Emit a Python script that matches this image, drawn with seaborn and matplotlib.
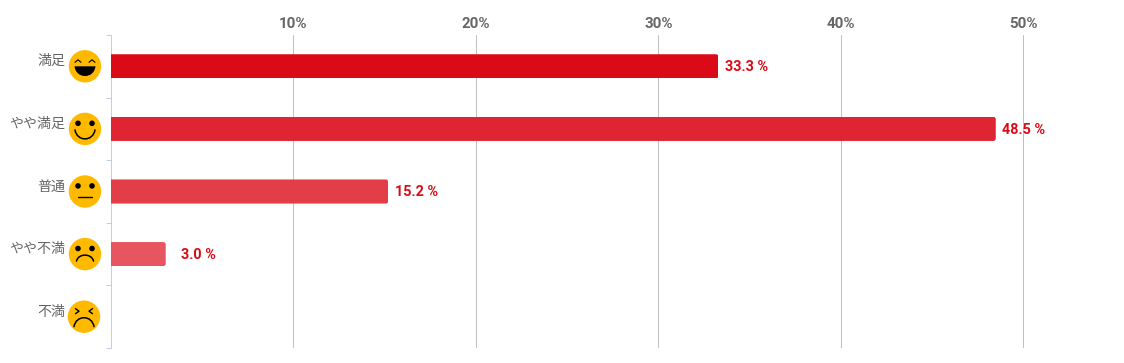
import matplotlib
matplotlib.use('Agg')
import matplotlib.pyplot as plt
import pandas as pd
import seaborn as sns
from matplotlib.patches import Circle, FancyBboxPatch, PathPatch
from matplotlib.path import Path
from matplotlib.transforms import IdentityTransform

categories = ['満足', 'やや満足', '普通', 'やや不満', '不満']
values = [33.3, 48.5, 15.2, 3.0, 0.0]
bar_colors = ['#DA0B17', '#DF2531', '#E33D48', '#E75660', '#EB6E76']
x_ticks = [10, 20, 30, 40, 50]
faces = ['grin', 'smile', 'flat', 'sad', 'angry']

sns.set_theme(style='white')
plt.rcParams['font.family'] = ['Roboto', 'DejaVu Sans']

W, H = 1124, 363
fig = plt.figure(figsize=(W / 100, H / 100), dpi=100)
ax = fig.add_axes([111 / W, 1 - 348 / H, (W - 111) / W, 313 / H])

df = pd.DataFrame({'category': categories, 'value': values})
sns.barplot(data=df, y='category', x='value', hue='category', palette=bar_colors,
            order=categories, hue_order=categories, width=0.385, legend=False,
            saturation=1, linewidth=0, ax=ax, zorder=3)
ax.set_xlim(0, 55.53)
ax.set_ylim(4.5, -0.5)
ax.set_xlabel('')
ax.set_ylabel('')

# axis at the top, grid only on the value ticks
ax.xaxis.tick_top()
ax.set_xticks(x_ticks)
ax.set_xticklabels([f'{t}%' for t in x_ticks], fontsize=10.8, fontweight='bold', color='#666666')
ax.tick_params(axis='x', length=0, pad=2.8)
ax.grid(axis='x', color='#C0C0C0', linewidth=0.72, zorder=0)
ax.set_axisbelow(True)

# category ticks sit between the bars
ax.set_yticks([i + 0.5 for i in range(-1, len(categories))])
ax.set_yticklabels([])
ax.tick_params(axis='y', length=3.6, width=0.72, color='#C0D0E0', left=True)
sns.despine(ax=ax, top=True, right=True, bottom=True)
ax.spines['left'].set_color('#C0D0E0')
ax.spines['left'].set_linewidth(0.72)

fig.canvas.draw()

# rounded right end on each bar
for bar in ax.patches:
    if bar.get_width() <= 0:
        continue
    bb = bar.get_window_extent()
    clip = FancyBboxPatch((bb.x0 - 10, bb.y0), bb.width + 10, bb.height,
                          boxstyle='round,pad=0,rounding_size=2.5', transform=IdentityTransform())
    bar.set_clip_path(clip.get_path().transformed(clip.get_patch_transform()), IdentityTransform())

# value labels
for i, v in enumerate(values):
    if v <= 0:
        continue
    extra = 15 if v < 5 else 6.5
    ax.annotate(f'{v:.1f} %', xy=(v, i), xytext=(extra, -1), textcoords='offset pixels',
                ha='left', va='center', fontsize=10.4, fontweight='bold', color='#DA0B17',
                annotation_clip=False)

# category labels
for i, c in enumerate(categories):
    ax.annotate(c, xy=(0, i), xytext=(-45.5, 5), textcoords='offset pixels', ha='right', va='center',
                fontsize=10.1, color='#666666', annotation_clip=False,
                family=['Noto Sans CJK JP', 'DejaVu Sans'])

# emoji overlay in pixel coordinates
ov = fig.add_axes([0, 0, 1, 1], zorder=5)
ov.set_xlim(0, W)
ov.set_ylim(H, 0)
ov.axis('off')


def curve(cx, cy, x0, x1, y0, y1, lw=1.1):
    # rounded arc from (x0, y0) to (x1, y0) reaching y1 in the middle
    ctrl = y0 + (y1 - y0) * 4 / 3
    dx = (x1 - x0) * 0.1
    verts = [(cx + x0, cy + y0), (cx + x0 + dx, cy + ctrl), (cx + x1 - dx, cy + ctrl), (cx + x1, cy + y0)]
    ov.add_patch(PathPatch(Path(verts, [Path.MOVETO, Path.CURVE4, Path.CURVE4, Path.CURVE4]),
                           fill=False, edgecolor='black', linewidth=lw, capstyle='round'))


def draw_face(cx, cy, kind):
    ov.add_patch(Circle((cx, cy), 16.2, facecolor='#FFBA00', edgecolor='none'))
    if kind in ('smile', 'flat', 'sad'):
        for dx in (-7, 7):
            ov.add_patch(Circle((cx + dx, cy - 5.6), 2.8, facecolor='black', edgecolor='none'))
    if kind == 'grin':
        for dx in (-7, 7):
            ov.plot([cx + dx - 3, cx + dx, cx + dx + 3], [cy - 4, cy - 6.5, cy - 4], color='black', lw=0.8)
        verts = [(cx - 10.5, cy), (cx - 9, cy + 13), (cx + 9, cy + 13), (cx + 10.5, cy), (cx - 10.5, cy)]
        ov.add_patch(PathPatch(Path(verts, [Path.MOVETO, Path.CURVE4, Path.CURVE4, Path.CURVE4, Path.CLOSEPOLY]),
                               facecolor='black', edgecolor='none'))
    elif kind == 'smile':
        curve(cx, cy, -10, 10, 1, 10)
    elif kind == 'flat':
        ov.plot([cx - 7, cx + 7], [cy + 5.5, cy + 5.5], color='black', lw=1)
    elif kind == 'sad':
        curve(cx, cy, -8.5, 8.5, 7, 1)
    elif kind == 'angry':
        ov.plot([cx - 8.5, cx - 5, cx - 8.5], [cy - 8, cy - 5.5, cy - 3], color='black', lw=1)
        ov.plot([cx + 8.5, cx + 5, cx + 8.5], [cy - 8, cy - 5.5, cy - 3], color='black', lw=1)
        curve(cx, cy, -10, 10, 10, 1)


for i, kind in enumerate(faces):
    py = H - ax.transData.transform((0, i))[1]
    draw_face(84 if kind == 'angry' else 85, py, kind)

fig.savefig('out.png', dpi=100)
